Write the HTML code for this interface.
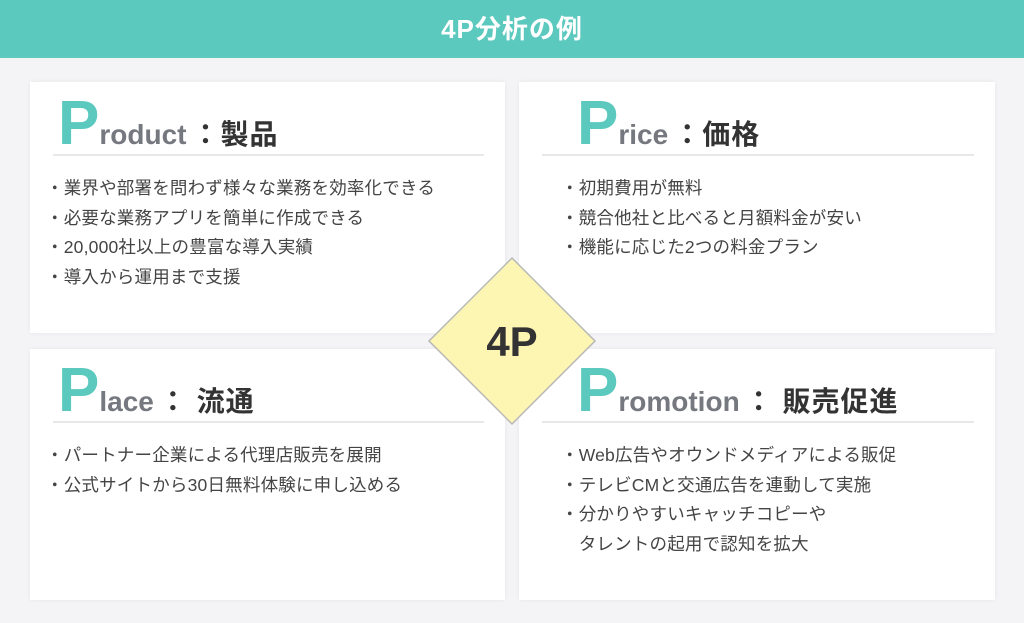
<!DOCTYPE html>
<html><head><meta charset="utf-8"><style>
body{margin:0;width:1024px;height:623px;background:#f4f4f6;font-family:"Liberation Sans","Noto Sans CJK JP",sans-serif;position:relative;overflow:hidden}
.hd{position:absolute;left:0;top:0;width:1024px;height:58px;background:#5cc9be;color:#fff;font-weight:bold;font-size:26px;text-align:center;line-height:58px;letter-spacing:1px}
.c{position:absolute;background:#fff;width:475px;height:251px;box-shadow:0 0 4px rgba(0,0,0,0.06)}
.t{position:absolute;left:28px;top:12px;white-space:nowrap;height:60px}
.t .P{font-size:62px;color:#5cc9be;font-weight:bold;vertical-align:baseline;line-height:60px}
.t .r{font-size:28px;color:#76787f;font-weight:bold}
.t .j{font-size:28px;color:#333;font-weight:bold;margin-left:5px;letter-spacing:1px}
.ln{position:absolute;left:23px;right:21px;top:72px;height:2px;background:#e8e8e8}
ul{position:absolute;left:16px;top:92px;margin:0;padding:0;list-style:none;font-size:17.5px;letter-spacing:0.2px;color:#444;line-height:29.7px}
li{white-space:nowrap}
li:before{content:"・";}
li.n:before{content:"\3000";}
</style></head><body>
<div class="hd">4P分析の例</div>
<div class="c" style="left:30px;top:82px">
<div class="t"><span class="P">P</span><span class="r">roduct</span><span class="j">：製品</span></div><div class="ln"></div>
<ul><li>業界や部署を問わず様々な業務を効率化できる</li><li>必要な業務アプリを簡単に作成できる</li><li>20,000社以上の豊富な導入実績</li><li>導入から運用まで支援</li></ul></div>
<div class="c" style="left:519px;top:82px;width:476px">
<div class="t" style="left:58px"><span class="P">P</span><span class="r">rice</span><span class="j">：価格</span></div><div class="ln"></div>
<ul style="left:42px"><li>初期費用が無料</li><li>競合他社と比べると月額料金が安い</li><li>機能に応じた2つの料金プラン</li></ul></div>
<div class="c" style="left:30px;top:349px">
<div class="t"><span class="P">P</span><span class="r">lace</span><span class="j">： 流通</span></div><div class="ln"></div>
<ul><li>パートナー企業による代理店販売を展開</li><li>公式サイトから30日無料体験に申し込める</li></ul></div>
<div class="c" style="left:519px;top:349px;width:476px">
<div class="t" style="left:58px"><span class="P">P</span><span class="r">romotion</span><span class="j">： 販売促進</span></div><div class="ln"></div>
<ul style="left:42px"><li>Web広告やオウンドメディアによる販促</li><li>テレビCMと交通広告を連動して実施</li><li>分かりやすいキャッチコピーや</li><li class="n">タレントの起用で認知を拡大</li></ul></div>
<svg style="position:absolute;left:0;top:0" width="1024" height="623"><polygon points="512,258 595,341 512,424 429,341" fill="#fdf5b2" stroke="#b8b8b8" stroke-width="1.5"/><text x="512" y="356" text-anchor="middle" font-family="Liberation Sans,sans-serif" font-weight="bold" font-size="42" fill="#333">4P</text></svg>
</body></html>
